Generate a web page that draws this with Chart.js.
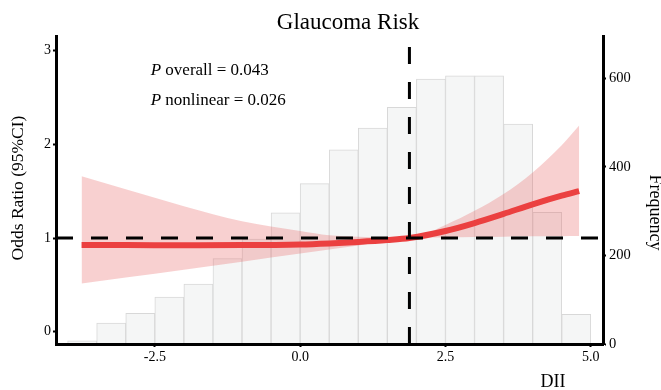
<!DOCTYPE html>
<html>
<head>
<meta charset="utf-8">
<script src="https://cdn.jsdelivr.net/npm/chart.js@4.4.1/dist/chart.umd.min.js"></script>
<style>
html,body{margin:0;padding:0;background:#fff;}
#wrap{width:661px;height:390px;position:relative;}
</style>
</head>
<body>
<div id="wrap"><canvas id="c" width="661" height="390"></canvas></div>
<script>
// ---- data ----
const binCenters = [-3.75, -3.25, -2.75, -2.25, -1.75, -1.25, -0.75, -0.25, 0.25, 0.75, 1.25, 1.75, 2.25, 2.75, 3.25, 3.75, 4.25, 4.75];
const binCounts  = [7, 47, 69, 106, 135, 193, 237, 296, 362, 438, 487, 534, 598, 605, 605, 496, 297, 67];

const curveX     = [-3.76, -3.0, -2.0, -1.0, 0.0, 0.5, 1.0, 1.5, 1.88, 2.5, 3.0, 3.5, 4.0, 4.5, 4.8];
const curveOR    = [0.925, 0.925, 0.924, 0.925, 0.932, 0.943, 0.958, 0.978, 1.0, 1.075, 1.16, 1.258, 1.36, 1.452, 1.50];
const curveLower = [0.516, 0.578, 0.662, 0.748, 0.834, 0.877, 0.921, 0.965, 1.0, 1.005, 1.01, 1.015, 1.018, 1.02, 1.022];
const curveUpper = [1.66, 1.52, 1.34, 1.18, 1.075, 1.03, 1.015, 1.005, 1.0, 1.14, 1.29, 1.47, 1.70, 1.99, 2.2];

const refX = 1.88;
const refOR = 1;

const xTickValues = [-2.5, 0, 2.5, 5];
const xTickLabels = ['-2.5', '0.0', '2.5', '5.0'];
const orTickValues = [0, 1, 2, 3];
const orTickLabels = ['0', '1', '2', '3'];
const freqTickValues = [0, 200, 400, 600];
const freqTickLabels = ['0', '200', '400', '600'];

const titleText = 'Glaucoma Risk';
const pOverallText = ' overall = 0.043';
const pNonlinearText = ' nonlinear = 0.026';
const yLeftTitle = 'Odds Ratio (95%CI)';
const yRightTitle = 'Frequency';
const xTitle = 'DII';

// ---- chart ----
const FAM = "'Liberation Serif', 'Times New Roman', serif";

const textPlugin = {
  id: 'textPlugin',
  afterDatasetsDraw(chart) {
    const {ctx, chartArea: a, scales} = chart;
    ctx.save();
    ctx.strokeStyle = '#000';
    ctx.lineWidth = 3;
    ctx.setLineDash([17, 18]);
    const yy = scales.yOR.getPixelForValue(refOR);
    ctx.beginPath(); ctx.moveTo(a.left, yy); ctx.lineTo(a.right, yy); ctx.stroke();
    const xx = scales.x.getPixelForValue(refX);
    ctx.beginPath(); ctx.moveTo(xx, a.bottom); ctx.lineTo(xx, a.top); ctx.stroke();
    ctx.restore();
  },
  afterDraw(chart) {
    const ctx = chart.ctx;
    ctx.save();
    ctx.fillStyle = '#000';
    // title
    ctx.font = "23px " + FAM;
    ctx.textAlign = 'center';
    ctx.textBaseline = 'alphabetic';
    ctx.fillText(titleText, 348, 28.5);
    // P annotations
    ctx.textAlign = 'left';
    const drawP = (rest, x, y) => {
      ctx.font = "italic 17px " + FAM;
      ctx.fillText('P', x, y);
      const w = ctx.measureText('P').width;
      ctx.font = "17px " + FAM;
      ctx.fillText(rest, x + w, y);
    };
    drawP(pOverallText, 150.7, 75);
    drawP(pNonlinearText, 150.7, 105);
    // x title
    ctx.font = "18px " + FAM;
    ctx.textAlign = 'center';
    ctx.fillText(xTitle, 553, 387);
    // left y title
    ctx.save();
    ctx.translate(23, 188);
    ctx.rotate(-Math.PI / 2);
    ctx.font = "17.5px " + FAM;
    ctx.textAlign = 'center';
    ctx.fillText(yLeftTitle, 0, 0);
    ctx.restore();
    // right y title
    ctx.save();
    ctx.translate(650, 212.5);
    ctx.rotate(Math.PI / 2);
    ctx.font = "18px " + FAM;
    ctx.textAlign = 'center';
    ctx.fillText(yRightTitle, 0, 0);
    ctx.restore();
    ctx.restore();
  }
};

const pts = (xs, ys) => xs.map((x, i) => ({x: x, y: ys[i]}));

const tickFont = {family: FAM, size: 14};
const gridOpts = {drawOnChartArea: false, drawTicks: true, tickLength: 3, tickColor: '#000', tickWidth: 2, color: '#000', offset: false};
const borderOpts = {display: true, color: '#000', width: 3, z: 1};

new Chart(document.getElementById('c'), {
  type: 'line',
  data: {
    datasets: [
      {
        type: 'line', label: 'OR', data: pts(curveX, curveOR), yAxisID: 'yOR',
        borderColor: '#eb4040', borderWidth: 6, pointRadius: 0, fill: false,
        cubicInterpolationMode: 'monotone', order: 1, borderCapStyle: 'butt'
      },
      {
        type: 'line', label: 'upper', data: pts(curveX, curveUpper), yAxisID: 'yOR',
        borderColor: 'rgba(0,0,0,0)', borderWidth: 0, pointRadius: 0, fill: '+1',
        backgroundColor: 'rgba(232,100,100,0.30)', cubicInterpolationMode: 'monotone', order: 2
      },
      {
        type: 'line', label: 'lower', data: pts(curveX, curveLower), yAxisID: 'yOR',
        borderColor: 'rgba(0,0,0,0)', borderWidth: 0, pointRadius: 0, fill: false,
        cubicInterpolationMode: 'monotone', order: 2
      },
      {
        type: 'bar', label: 'Frequency', data: pts(binCenters, binCounts), yAxisID: 'yF',
        backgroundColor: '#f5f6f6', borderColor: '#d8d8d8', borderWidth: 1,
        barPercentage: 1, categoryPercentage: 1, order: 3
      }
    ]
  },
  options: {
    responsive: false,
    animation: false,
    devicePixelRatio: 1,
    layout: {padding: {top: 36, left: 0, right: 0, bottom: 0}},
    plugins: {legend: {display: false}, tooltip: {enabled: false}, title: {display: false}},
    scales: {
      x: {
        type: 'linear', position: 'bottom', min: -4.2, max: 5.21, offset: false,
        afterBuildTicks: s => { s.ticks = xTickValues.map(v => ({value: v})); },
        afterFit: s => { s.height = 46; },
        ticks: {callback: (v, i) => xTickLabels[i], font: tickFont, color: '#000', padding: 2, maxRotation: 0, autoSkip: false},
        grid: gridOpts, border: borderOpts
      },
      yOR: {
        type: 'linear', position: 'left', min: -0.13, max: 3.155,
        afterBuildTicks: s => { s.ticks = orTickValues.map(v => ({value: v})); },
        afterFit: s => { s.width = 56; },
        ticks: {callback: (v, i) => orTickLabels[i], font: tickFont, color: '#000', padding: 2, autoSkip: false},
        grid: gridOpts, border: borderOpts
      },
      yF: {
        type: 'linear', position: 'right', min: 0, max: 695,
        afterBuildTicks: s => { s.ticks = freqTickValues.map(v => ({value: v})); },
        afterFit: s => { s.width = 58; },
        ticks: {callback: (v, i) => freqTickLabels[i], font: {family: FAM, size: 14.5}, color: '#000', padding: 3, autoSkip: false},
        grid: gridOpts, border: borderOpts
      }
    }
  },
  plugins: [textPlugin]
});
</script>
</body>
</html>
